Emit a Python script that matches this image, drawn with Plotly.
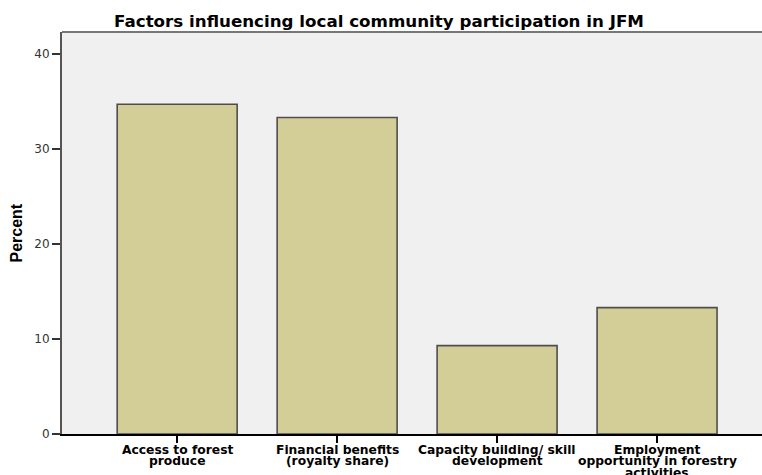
import plotly.graph_objects as go

categories = [
    "Access to forest<br>produce",
    "Financial benefits<br>(royalty share)",
    "Capacity building/ skill<br>development",
    "Employment<br>opportunity in forestry<br>activities",
]
percent = [34.7, 33.3, 9.3, 13.3]
y_ticks = [0, 10, 20, 30, 40]

W, H = 762, 475
ML, MR, MT, MB = 62, 0, 32, 41
PW = W - ML - MR

fig = go.Figure(
    go.Bar(
        x=list(range(len(categories))),
        y=percent,
        width=0.75,
        marker=dict(color="#D3CE98", line=dict(color="#4E4E4E", width=1.6)),
    )
)

annotations = []
for i, label in enumerate(categories):
    for j, line in enumerate(label.split("<br>")):
        annotations.append(dict(
            x=i, xref="x", y=0, yref="paper",
            text="<b>" + line + "</b>", showarrow=False,
            xanchor="center", yanchor="middle",
            yshift=-(15.5 + 11.8 * j),
            font=dict(family="DejaVu Sans", size=12.3, color="#000000"),
        ))

annotations.append(dict(
    x=-(ML - 15.5) / PW, xref="paper", y=0.5, yref="paper",
    text="<b>Percent</b>", showarrow=False, textangle=-90,
    xanchor="center", yanchor="middle",
    font=dict(family="Liberation Sans, Arial", size=16, color="#000000"),
))

fig.update_layout(
    width=W,
    height=H,
    margin=dict(l=ML, r=MR, t=MT, b=MB),
    paper_bgcolor="white",
    plot_bgcolor="#F0F0F0",
    showlegend=False,
    title=dict(
        text="<b>Factors influencing local community participation in JFM</b>",
        x=379 / W,
        xanchor="center",
        y=1 - 21 / H,
        yanchor="middle",
        automargin=False,
        font=dict(family="DejaVu Sans", size=16.7, color="#000000"),
    ),
    font=dict(family="DejaVu Sans", color="#000000"),
    annotations=annotations,
    shapes=[
        dict(type="line", xref="paper", yref="paper", x0=0, x1=1, y0=1, y1=1,
             line=dict(color="#777777", width=2)),
    ],
)

fig.update_xaxes(
    range=[-0.72, 3.656],
    tickmode="array",
    tickvals=list(range(len(categories))),
    showticklabels=False,
    ticks="outside",
    ticklen=7,
    tickwidth=1.5,
    tickcolor="#000000",
    showline=True,
    linecolor="#000000",
    linewidth=1.5,
    showgrid=False,
    zeroline=False,
    automargin=False,
)

fig.update_yaxes(
    range=[0, 42.3],
    tickmode="array",
    tickvals=y_ticks,
    ticktext=[str(v) for v in y_ticks],
    tickfont=dict(family="DejaVu Sans", size=12, color="#333333"),
    ticks="outside",
    ticklen=8,
    tickwidth=1.5,
    tickcolor="#333333",
    showline=True,
    linecolor="#555555",
    linewidth=2,
    showgrid=False,
    zeroline=False,
    automargin=False,
)

fig.write_html(
    "out.html",
    config={"displayModeBar": False},
    post_script="document.body.style.margin='0';document.body.style.overflow='hidden';",
)
